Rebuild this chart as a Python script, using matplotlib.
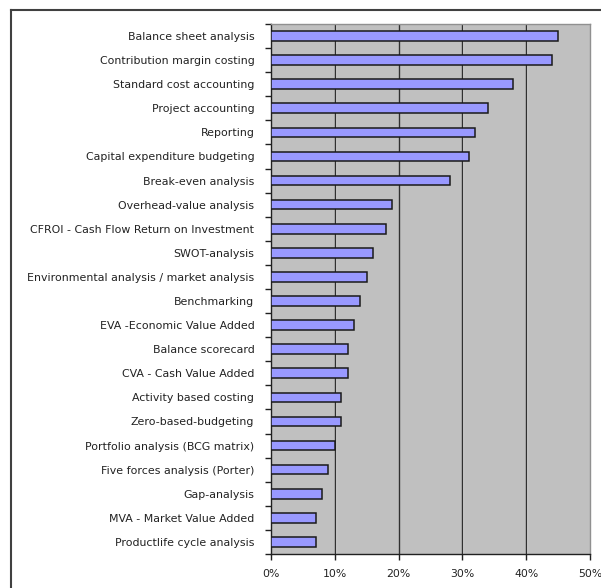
import matplotlib.pyplot as plt
import numpy as np

categories = [
    'Balance sheet analysis',
    'Contribution margin costing',
    'Standard cost accounting',
    'Project accounting',
    'Reporting',
    'Capital expenditure budgeting',
    'Break-even analysis',
    'Overhead-value analysis',
    'CFROI - Cash Flow Return on Investment',
    'SWOT-analysis',
    'Environmental analysis / market analysis',
    'Benchmarking',
    'EVA -Economic Value Added',
    'Balance scorecard',
    'CVA - Cash Value Added',
    'Activity based costing',
    'Zero-based-budgeting',
    'Portfolio analysis (BCG matrix)',
    'Five forces analysis (Porter)',
    'Gap-analysis',
    'MVA - Market Value Added',
    'Productlife cycle analysis',
]
values = [45, 44, 38, 34, 32, 31, 28, 19, 18, 16, 15, 14, 13, 12, 12, 11, 11, 10, 9, 8, 7, 7]
xticks = [0, 10, 20, 30, 40, 50]

fig = plt.figure(figsize=(6.01, 5.88), dpi=100)
W, H = 601, 588
ax = fig.add_axes([271 / W, 1 - 554 / H, (590 - 271) / W, (554 - 24) / H])

# frame around figure (only left and top visible)
fig.add_artist(plt.Line2D([11 / W, 11 / W], [0, 1 - 10 / H], color='#404040', lw=1.5))
fig.add_artist(plt.Line2D([11 / W, 1], [1 - 10 / H, 1 - 10 / H], color='#404040', lw=1.5))

n = len(categories)
y = np.arange(n)
ax.set_facecolor('#c0c0c0')
for gx in xticks[1:-1]:
    ax.axvline(gx + 0.12, color='#e6e6e6', lw=0.8, zorder=1)
    ax.axvline(gx, color='#303030', lw=1.0, zorder=1)
ax.barh(y, values, height=0.4, color='#9999ff', edgecolor='#1a1a1a', lw=1.1, zorder=3)

ax.set_xlim(0, 50)
ax.set_ylim(n - 0.5, -0.5)
ax.set_xticks(xticks)
ax.set_xticklabels([f'{v}%' for v in xticks], fontsize=7.8, color='#222222')
ax.set_yticks(y)
ax.set_yticklabels(categories, fontsize=7.9, color='#222222')
ax.set_yticks(np.arange(-0.5, n, 1), minor=True)
ax.tick_params(axis='y', which='major', length=0, pad=12)
ax.tick_params(axis='y', which='minor', length=4, width=1, direction='out', color='#202020')
ax.tick_params(axis='x', length=4, width=1, direction='out', pad=7, color='#202020')

for s in ['left', 'bottom']:
    ax.spines[s].set_color('#202020')
    ax.spines[s].set_linewidth(1.0)
for s in ['top', 'right']:
    ax.spines[s].set_color('#909090')
    ax.spines[s].set_linewidth(1.0)

fig.savefig('out.png', dpi=100)
